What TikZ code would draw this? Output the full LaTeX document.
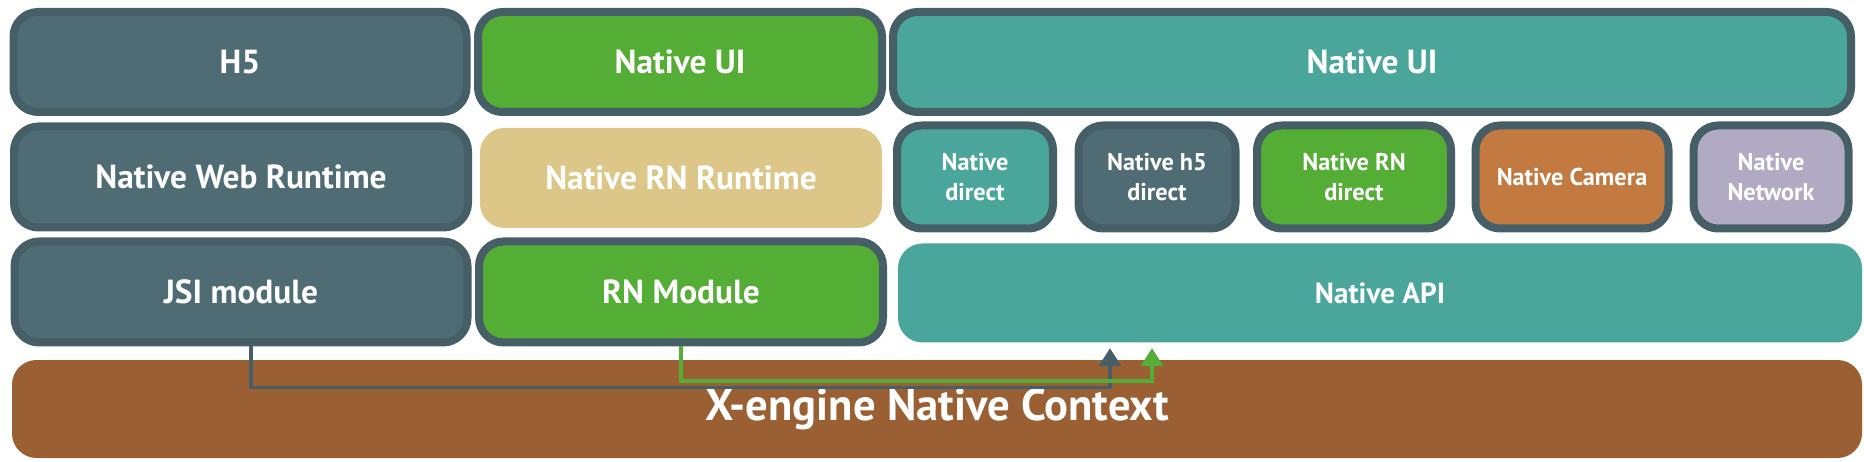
\documentclass[tikz,border=0pt]{standalone}
\usepackage{fontspec}
\setmainfont{PT Sans}
\usetikzlibrary{arrows.meta}

\definecolor{slate}{HTML}{465F66}
\definecolor{slatefill}{HTML}{4F6C74}
\definecolor{leaf}{HTML}{54AD34}
\definecolor{teal}{HTML}{4AA59B}
\definecolor{sand}{HTML}{DCC688}
\definecolor{copper}{HTML}{C37A41}
\definecolor{lilac}{HTML}{B1AAC3}
\definecolor{earth}{HTML}{9A6033}

\begin{document}
\begin{tikzpicture}[x=0.1mm, y=-0.1mm, >={Triangle[length=1.8mm,width=2.2mm]},
        block/.style={rounded corners=7pt, inner sep=0pt, text=white},
        rough/.style={block, draw=slate, line width=0.8mm},
        big/.style={font=\bfseries\fontsize{9.5}{11}\selectfont},
        small/.style={font=\bfseries\fontsize{6.9}{8.5}\selectfont, align=center},
        link/.style={line width=0.4mm, ->}]
            \useasboundingbox (0,0) rectangle (1864,462);

            \node[rough, big, fill=slatefill, minimum width=45.3mm, minimum height=10mm] (h5) at (240,62) {H5};
            \node[rough, big, fill=leaf, minimum width=40.4mm, minimum height=10mm] (rnui) at (680,62) {Native UI};
            \node[rough, big, fill=teal, minimum width=95.8mm, minimum height=10mm] (nui) at (1372,62) {Native UI};

            \node[rough, big, fill=slatefill, minimum width=45.4mm, minimum height=10.1mm] (web) at (241,177) {Native Web Runtime};
            \node[block, big, fill=sand, minimum width=40.2mm, minimum height=10mm] (rnrt) at (681,178) {Native RN Runtime};
            \node[rough, small, fill=teal, minimum width=15.6mm, minimum height=10.3mm] (ndir) at (975,177) {Native\\direct};
            \node[rough, small, fill=slatefill, minimum width=15.7mm, minimum height=10.3mm] (nh5) at (1157,177) {Native h5\\direct};
            \node[rough, small, fill=leaf, minimum width=19.4mm, minimum height=10.3mm] (nrn) at (1354,177) {Native RN\\direct};
            \node[rough, small, fill=copper, minimum width=19.3mm, minimum height=10.3mm] (ncam) at (1572,177) {Native Camera};
            \node[rough, small, fill=lilac, minimum width=15.5mm, minimum height=10.3mm] (nnet) at (1771,177) {Native\\Network};

            \node[rough, big, fill=slatefill, minimum width=45.3mm, minimum height=10.1mm] (jsi) at (241,292) {JSI module};
            \node[rough, big, fill=leaf, minimum width=40.4mm, minimum height=10.1mm] (rnm) at (681,292) {RN Module};
            \node[block, fill=teal, font=\bfseries\fontsize{8.3}{10}\selectfont, minimum width=96.4mm, minimum height=9.9mm] (api) at (1380,293) {Native API};

            \node[block, fill=earth, font=\bfseries\fontsize{12.7}{15}\selectfont, minimum width=185mm, minimum height=9.8mm] (ctx) at (937,409) {X-engine Native Context};

            \draw[link, slate] ([xshift=1mm]jsi.south) -- ++(0,41) -| ([xshift=-27mm,yshift=-0.5mm]api.south);
            \draw[link, leaf] (rnm.south) -- ++(0,35) -| ([xshift=-22.8mm,yshift=-0.5mm]api.south);
        \end{tikzpicture}
\end{document}
